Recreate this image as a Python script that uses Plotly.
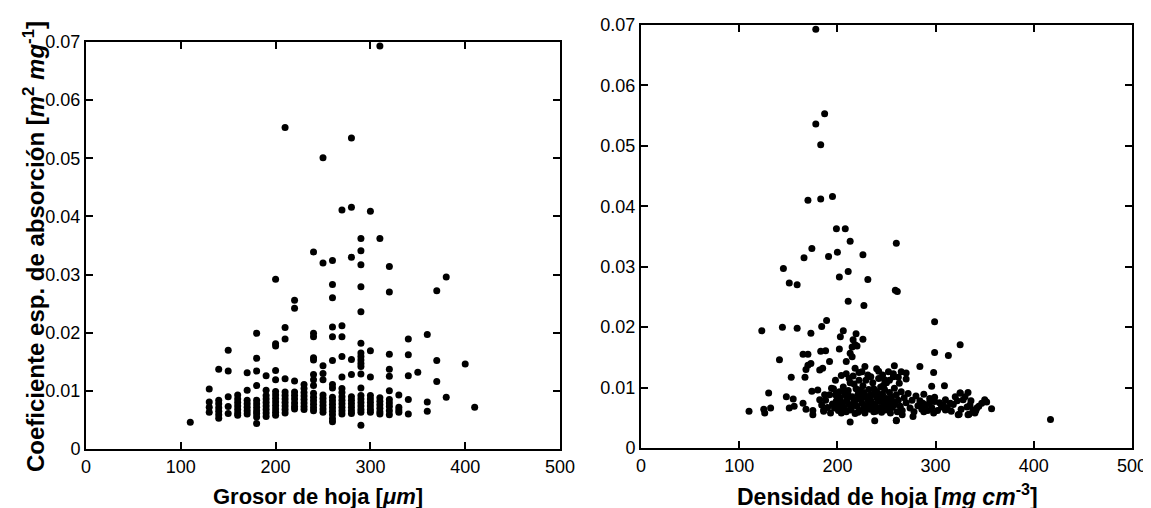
import plotly.graph_objects as go

# ---------------- data: left panel (leaf thickness, discrete 10-um columns) -------------
grosor_columns = [110, 130, 140, 150, 160, 170, 180, 190, 200, 210, 220, 230, 240, 250,
                  260, 270, 280, 290, 300, 310, 320, 330, 340, 350, 360, 370, 380, 400, 410]
coef_columns = [
    [0.0046],
    [0.0103, 0.0081, 0.0072, 0.0063],
    [0.0137, 0.0084, 0.0078, 0.0071, 0.0065, 0.0059, 0.0053],
    [0.0170, 0.0134, 0.0090, 0.0073, 0.0061],
    [0.0093, 0.0086, 0.0080, 0.0074, 0.0068, 0.0062, 0.0058],
    [0.0131, 0.0101, 0.0084, 0.0078, 0.0072, 0.0066, 0.0060],
    [0.0199, 0.0156, 0.0134, 0.0109, 0.0084, 0.0078, 0.0072, 0.0066, 0.0061, 0.0055, 0.0044],
    [0.0126, 0.0101, 0.0092, 0.0086, 0.0080, 0.0074, 0.0068, 0.0062, 0.0056],
    [0.0292, 0.0181, 0.0177, 0.0135, 0.0119, 0.0099, 0.0093, 0.0087, 0.0081, 0.0075, 0.0069, 0.0063, 0.0058],
    [0.0553, 0.0209, 0.0189, 0.0121, 0.0098, 0.0092, 0.0086, 0.0080, 0.0074, 0.0068, 0.0062],
    [0.0256, 0.0242, 0.0117, 0.0098, 0.0092, 0.0086, 0.0079, 0.0073, 0.0069],
    [0.0111, 0.0104, 0.0097, 0.0091, 0.0085, 0.0079, 0.0073, 0.0068],
    [0.0339, 0.0199, 0.0193, 0.0157, 0.0153, 0.0128, 0.0119, 0.0109, 0.0096, 0.0089, 0.0083, 0.0077, 0.0071, 0.0066],
    [0.0501, 0.0320, 0.0143, 0.0130, 0.0119, 0.0093, 0.0087, 0.0081, 0.0075, 0.0069, 0.0063],
    [0.0324, 0.0283, 0.0260, 0.0210, 0.0193, 0.0152, 0.0111, 0.0105, 0.0089, 0.0083, 0.0077, 0.0071, 0.0065, 0.0059, 0.0052, 0.0047],
    [0.0411, 0.0212, 0.0193, 0.0159, 0.0124, 0.0104, 0.0097, 0.0090, 0.0084, 0.0078, 0.0072, 0.0066, 0.0060],
    [0.0535, 0.0416, 0.0330, 0.0154, 0.0128, 0.0090, 0.0084, 0.0078, 0.0072, 0.0066, 0.0061],
    [0.0362, 0.0341, 0.0317, 0.0279, 0.0236, 0.0182, 0.0165, 0.0159, 0.0153, 0.0147, 0.0142, 0.0129, 0.0105, 0.0092, 0.0086, 0.0080, 0.0074, 0.0068, 0.0063, 0.0041],
    [0.0409, 0.0169, 0.0124, 0.0092, 0.0086, 0.0080, 0.0074, 0.0068, 0.0063],
    [0.0693, 0.0362, 0.0088, 0.0082, 0.0076, 0.0070, 0.0064, 0.0060],
    [0.0314, 0.0270, 0.0163, 0.0137, 0.0125, 0.0100, 0.0085, 0.0079, 0.0073, 0.0066, 0.0059],
    [0.0093, 0.0072, 0.0067, 0.0063],
    [0.0189, 0.0162, 0.0126, 0.0085, 0.0060],
    [0.0132],
    [0.0197, 0.0081, 0.0065],
    [0.0272, 0.0152, 0.0116],
    [0.0296, 0.0089],
    [0.0146],
    [0.0072],
]

# ---------------- data: right panel (leaf density) ----------------
densidad = [
    110, 123, 125, 126, 130, 132, 141, 144, 145, 148, 151, 151, 153, 155, 156, 159, 159,
    165, 165, 166, 167, 168, 168, 170, 170, 170, 173, 173, 174, 175, 175, 174, 178, 178,
    180, 182, 182, 183, 183, 183, 184, 185, 186, 187, 187, 188, 189, 191, 192, 194, 195,
    199, 200, 202, 202, 203, 204, 206, 208, 209, 209, 211, 211, 213, 213, 213, 215, 215,
    216, 218, 218, 219, 220, 226, 226, 225, 227, 228, 231, 238, 242, 252, 257, 258, 259,
    261, 260, 260, 270, 270, 284, 296, 298, 299, 299, 309, 313, 325, 325, 333, 350, 347,
    342, 357, 341, 334, 324, 417,
    287, 294, 299, 308, 315, 320, 325, 328, 335, 340, 323, 333, 310, 298, 288, 277, 266,
    260, 254, 247, 257, 250,
    196, 198, 199, 200, 201, 197, 202, 203, 204, 205, 206, 207, 208, 209, 210, 211, 212,
    213, 214, 215, 216, 217, 218, 219, 220, 221, 222, 223, 224, 225, 226, 227, 228, 229,
    230, 231, 232, 233, 234, 235, 236, 237, 238, 239, 240, 241, 242, 243, 244, 245, 246,
    247, 248, 249, 250, 251, 252, 253, 254, 255, 256, 257, 258, 259, 260, 261, 262, 263,
    264, 265, 266, 268, 270, 272, 274, 276, 278, 280, 282, 284, 286, 288, 290, 292, 294,
    296, 299, 302, 304, 306, 310, 312, 316, 318, 322, 326, 330, 332, 336, 338, 344, 352,
    199, 201, 203, 205, 207, 209, 211, 213, 215, 217, 219, 221, 223, 225, 227, 229, 231,
    233, 235, 237, 239, 241, 243, 245, 247, 249, 251, 253, 255, 193, 195, 190, 188, 192,
    186, 184,
    198, 212, 234, 246, 240, 222, 248, 262, 265,
]
coef_densidad = [
    0.0061, 0.0194, 0.0064, 0.0058, 0.0091, 0.0066, 0.0146, 0.0200, 0.0297, 0.0085, 0.0066,
    0.0273, 0.0117, 0.0081, 0.0069, 0.0270, 0.0198,
    0.0074, 0.0155, 0.0315, 0.0117, 0.0064, 0.0130, 0.0155, 0.0137, 0.0410, 0.0140, 0.0190,
    0.0094, 0.0062, 0.0055, 0.0330, 0.0693, 0.0536,
    0.0096, 0.0080, 0.0129, 0.0160, 0.0412, 0.0502, 0.0201, 0.0132, 0.0063, 0.0553, 0.0088,
    0.0161, 0.0211, 0.0317, 0.0143, 0.0099, 0.0416,
    0.0363, 0.0324, 0.0283, 0.0164, 0.0184, 0.0120, 0.0194, 0.0363, 0.0143, 0.0123, 0.0292,
    0.0243, 0.0342, 0.0157, 0.0043, 0.0167, 0.0151,
    0.0179, 0.0171, 0.0132, 0.0189, 0.0169, 0.0320, 0.0180, 0.0126, 0.0236, 0.0135, 0.0279,
    0.0045, 0.0127, 0.0126, 0.0118, 0.0136, 0.0261,
    0.0259, 0.0339, 0.0045, 0.0124, 0.0114, 0.0135, 0.0102, 0.0125, 0.0209, 0.0158, 0.0103,
    0.0153, 0.0171, 0.0091, 0.0092, 0.0080, 0.0074,
    0.0066, 0.0065, 0.0062, 0.0056, 0.0056, 0.0047,
    0.0074, 0.0082, 0.0077, 0.0071, 0.0074, 0.0085, 0.0091, 0.0080, 0.0071, 0.0058, 0.0055,
    0.0055, 0.0063, 0.0058, 0.0060, 0.0052, 0.0055,
    0.0046, 0.0068, 0.0066, 0.0077, 0.0082,
    0.0098, 0.0088, 0.0078, 0.0070, 0.0062, 0.0066, 0.0093, 0.0083, 0.0058, 0.0075, 0.0101,
    0.0067, 0.0088, 0.0060, 0.0080, 0.0095, 0.0072,
    0.0108, 0.0064, 0.0085, 0.0119, 0.0077, 0.0057, 0.0098, 0.0069, 0.0089, 0.0112, 0.0062,
    0.0081, 0.0074, 0.0103, 0.0092, 0.0058, 0.0084,
    0.0070, 0.0121, 0.0097, 0.0064, 0.0078, 0.0088, 0.0108, 0.0060, 0.0073, 0.0094, 0.0083,
    0.0066, 0.0115, 0.0077, 0.0101, 0.0059, 0.0089,
    0.0071, 0.0097, 0.0063, 0.0108, 0.0080, 0.0074, 0.0092, 0.0058, 0.0085, 0.0067, 0.0123,
    0.0099, 0.0072, 0.0088, 0.0060, 0.0079, 0.0107,
    0.0069, 0.0093, 0.0062, 0.0083, 0.0075, 0.0090, 0.0066, 0.0079, 0.0060, 0.0086, 0.0070,
    0.0078, 0.0064, 0.0089, 0.0071, 0.0062, 0.0076,
    0.0067, 0.0084, 0.0062, 0.0075, 0.0068, 0.0080, 0.0066, 0.0061, 0.0072, 0.0078, 0.0064,
    0.0085, 0.0068, 0.0078, 0.0063, 0.0069, 0.0076,
    0.0090, 0.0083, 0.0069, 0.0063, 0.0093, 0.0077, 0.0087, 0.0063, 0.0070, 0.0106, 0.0080,
    0.0059, 0.0096, 0.0085, 0.0066, 0.0112, 0.0079,
    0.0087, 0.0068, 0.0098, 0.0061, 0.0091, 0.0066, 0.0082, 0.0104, 0.0075, 0.0065, 0.0112,
    0.0074, 0.0058, 0.0073, 0.0067, 0.0079, 0.0088,
    0.0061, 0.0071,
    0.0112, 0.0115, 0.0118, 0.0121, 0.0131, 0.0125, 0.0113, 0.0117, 0.0126,
]

x_ticks = [0, 100, 200, 300, 400, 500]
y_ticks = [0, 0.01, 0.02, 0.03, 0.04, 0.05, 0.06, 0.07]

# expand the column table of the left panel
grosor = []
coef_grosor = []
for gx, col in zip(grosor_columns, coef_columns):
    for v in col:
        grosor.append(gx)
        coef_grosor.append(v)

FONT = "Arial, Liberation Sans, sans-serif"
marker = dict(color="black", size=7, line=dict(width=0))

fig = go.Figure()
fig.add_trace(go.Scatter(x=grosor, y=coef_grosor, mode="markers", marker=marker,
                         xaxis="x", yaxis="y", showlegend=False))
fig.add_trace(go.Scatter(x=densidad, y=coef_densidad, mode="markers", marker=marker,
                         xaxis="x2", yaxis="y2", showlegend=False))

W, H = 1151, 508
OFF = 8  # page body margin: screen px = figure px + 8


def sx(p):  # screen x -> paper fraction
    return (p - OFF) / W


def sy(p):  # screen y -> paper fraction (from bottom)
    return (H - (p - OFF)) / H


def ax(domain, rng, ticks, anchor):
    return dict(domain=domain, range=rng, tickvals=ticks, ticks="inside", ticklen=7,
                tickwidth=1.5, tickcolor="black", showline=True, linewidth=2,
                linecolor="black", mirror="ticks", showgrid=False, zeroline=False,
                tickfont=dict(family=FONT, size=18, color="black"), anchor=anchor,
                fixedrange=True, automargin=False)


fig.update_layout(
    template="none",
    width=W, height=H, autosize=False,
    margin=dict(l=0, r=0, t=0, b=0, pad=0),
    paper_bgcolor="white", plot_bgcolor="white",
    showlegend=False,
    xaxis=ax([sx(86), sx(560)], [0, 500], x_ticks, "y"),
    yaxis=ax([sy(449), sy(42)], [0, 0.07], y_ticks, "x"),
    xaxis2=ax([sx(641), sx(1132)], [0, 500], x_ticks, "y2"),
    yaxis2=ax([sy(448), sy(25)], [0, 0.07], y_ticks, "x2"),
)

title_font = dict(family=FONT, size=22, color="black")
fig.add_annotation(text="<b>Grosor de hoja [<i>μm</i>]</b>", xref="paper", yref="paper",
                   x=sx(318), y=sy(496), showarrow=False, font=title_font,
                   xanchor="center", yanchor="middle")
fig.add_annotation(text="<b>Densidad de hoja [<i>mg cm</i><sup>-3</sup>]</b>", xref="paper",
                   yref="paper", x=sx(887), y=sy(495), showarrow=False,
                   font=dict(family=FONT, size=23, color="black"),
                   xanchor="center", yanchor="middle")
fig.add_annotation(text="<b>Coeficiente esp. de absorción [<i>m</i><sup>2</sup> <i>mg</i><sup>-1</sup>]</b>",
                   xref="paper", yref="paper", x=sx(34), y=sy(247), showarrow=False,
                   font=dict(family=FONT, size=24, color="black"), textangle=-90,
                   xanchor="center", yanchor="middle")

fig.write_html("out.html")
